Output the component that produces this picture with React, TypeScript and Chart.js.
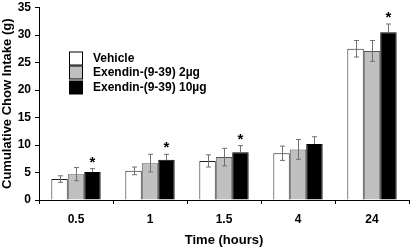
import React, { useEffect, useRef } from "react";
import { Chart, registerables } from "chart.js";

Chart.register(...registerables);

const categories = ["0.5", "1", "1.5", "4", "24"];
const seriesLabels = ["Vehicle", "Exendin-(9-39) 2µg", "Exendin-(9-39) 10µg"];
const vehicle = [3.8, 5.3, 7.1, 8.5, 27.5];
const vehicleErr = [0.6, 0.7, 1.1, 1.3, 1.5];
const ex2 = [4.7, 6.7, 7.8, 9.2, 27.1];
const ex2Err = [1.2, 1.6, 1.6, 1.8, 1.9];
const ex10 = [5.1, 7.3, 8.7, 10.2, 30.5];
const ex10Err = [0.6, 1.0, 1.2, 1.3, 1.5];
const ex10Significant = [true, true, true, false, true];
const yTicks = [0, 5, 10, 15, 20, 25, 30, 35];

const FONT = "Arial, 'Liberation Sans', Helvetica, sans-serif";

const errorsByDataset = [vehicleErr, ex2Err, ex10Err];
const starsByDataset = [null, null, ex10Significant];

const errorBarPlugin = {
  id: "errorBars",
  afterDatasetsDraw(chart: any) {
    const ctx = chart.ctx;
    const yScale = chart.scales.y;
    ctx.save();
    chart.data.datasets.forEach((ds: any, di: number) => {
      const meta = chart.getDatasetMeta(di);
      const errs = errorsByDataset[di];
      const stars = starsByDataset[di];
      meta.data.forEach((bar: any, i: number) => {
        const v = ds.data[i];
        const e = errs[i];
        const x = Math.round(bar.x) + 0.5;
        const yTop = yScale.getPixelForValue(v + e);
        const yMid = yScale.getPixelForValue(v);
        const yBot = yScale.getPixelForValue(v - e);
        ctx.strokeStyle = "#707070";
        ctx.lineWidth = 1;
        ctx.beginPath();
        ctx.moveTo(x, yTop);
        ctx.lineTo(x, di === 2 ? yMid : yBot);
        ctx.moveTo(x - 2.5, yTop);
        ctx.lineTo(x + 2.5, yTop);
        if (di !== 2) {
          ctx.moveTo(x - 2.5, yBot);
          ctx.lineTo(x + 2.5, yBot);
        }
        ctx.stroke();
        if (stars && stars[i]) {
          ctx.fillStyle = "#000";
          ctx.font = `bold 15px ${FONT}`;
          ctx.textAlign = "center";
          ctx.textBaseline = "alphabetic";
          ctx.fillText("*", bar.x, yTop - 2);
        }
      });
    });
    ctx.restore();
  },
};

const legendPlugin = {
  id: "customLegend",
  afterDraw(chart: any) {
    const ctx = chart.ctx;
    ctx.save();
    const x0 = 69.5;
    const y0 = 57.5;
    const rowH = 14.5;
    chart.data.datasets.forEach((ds: any, di: number) => {
      const cy = Math.round(y0 + di * rowH) + 0.5;
      ctx.fillStyle = ds.backgroundColor;
      ctx.fillRect(x0, cy - 6.5, 13, 13);
      ctx.strokeStyle = "#000";
      ctx.lineWidth = 1;
      ctx.strokeRect(x0, cy - 6.5, 13, 13);
      ctx.fillStyle = "#000";
      ctx.font = `bold 12px ${FONT}`;
      ctx.textAlign = "left";
      ctx.textBaseline = "middle";
      ctx.fillText(ds.label, 93, cy);
    });
    ctx.restore();
  },
};

export default function App() {
  const ref = useRef<HTMLCanvasElement | null>(null);
  useEffect(() => {
    if (!ref.current) return;
    const chart = new Chart(ref.current, {
      type: "bar",
      data: {
        labels: categories,
        datasets: [
          {
            label: seriesLabels[0],
            data: vehicle,
            backgroundColor: "#ffffff",
            borderColor: "#222222",
            borderWidth: 1,
          },
          {
            label: seriesLabels[1],
            data: ex2,
            backgroundColor: "#c0c0c0",
            borderColor: "#555555",
            borderWidth: 1,
          },
          {
            label: seriesLabels[2],
            data: ex10,
            backgroundColor: "#000000",
            borderColor: "#000000",
            borderWidth: 1,
          },
        ],
      },
      options: {
        responsive: false,
        animation: false,
        layout: { padding: { top: 0, right: 1, left: 0, bottom: 0 } },
        plugins: {
          legend: { display: false },
          tooltip: { enabled: false },
        },
        datasets: {
          bar: { categoryPercentage: 0.667, barPercentage: 1.0 },
        },
        scales: {
          x: {
            afterFit(scale: any) {
              scale.height = 48;
            },
            grid: {
              display: true,
              drawOnChartArea: false,
              drawTicks: true,
              tickLength: 4,
              color: "#000",
              offset: true,
            },
            border: { display: true, color: "#000", width: 1 },
            ticks: {
              color: "#000",
              font: { family: FONT, size: 12, weight: "bold" },
              padding: 8,
            },
            title: {
              display: true,
              text: "Time (hours)",
              color: "#000",
              font: { family: FONT, size: 13, weight: "bold" },
              padding: { top: 0, bottom: 0 },
            },
          },
          y: {
            min: 0,
            max: 35,
            afterBuildTicks(scale: any) {
              scale.ticks = yTicks.map((v) => ({ value: v }));
            },
            afterFit(scale: any) {
              scale.width = 39;
              scale.paddingTop = 7.5;
            },
            grid: {
              display: true,
              drawOnChartArea: false,
              drawTicks: true,
              tickLength: 4,
              color: "#000",
            },
            border: { display: true, color: "#000", width: 1 },
            ticks: {
              color: "#000",
              font: { family: FONT, size: 12, weight: "bold" },
              padding: 4,
            },
            title: {
              display: true,
              text: "Cumulative Chow Intake (g)",
              color: "#000",
              font: { family: FONT, size: 13, weight: "bold" },
              padding: { top: 0, bottom: 0 },
            },
          },
        },
      },
      plugins: [errorBarPlugin, legendPlugin],
    } as any);
    return () => chart.destroy();
  }, []);
  return (
    <div style={{ position: "fixed", left: 0, top: 0, width: 410, height: 248, background: "#fff" }}>
      <canvas ref={ref} width={410} height={248} style={{ display: "block" }} />
    </div>
  );
}
